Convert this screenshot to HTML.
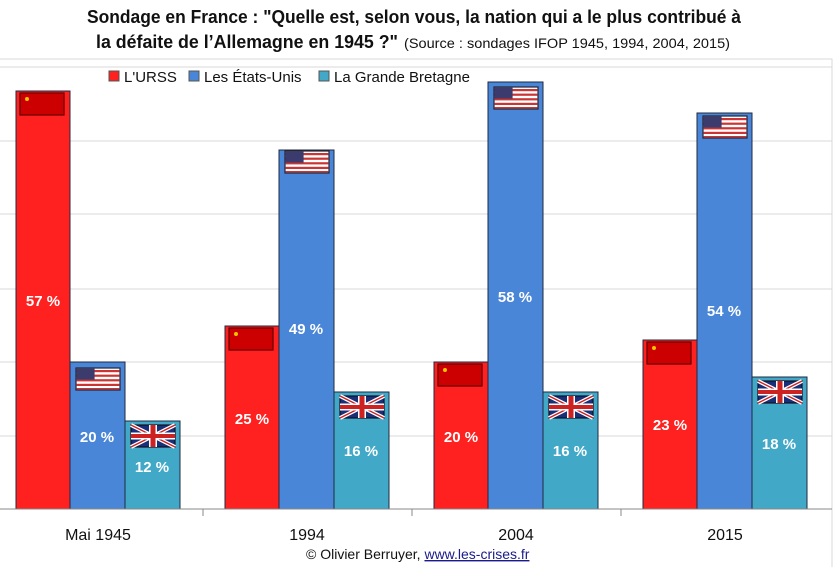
<!DOCTYPE html>
<html><head><meta charset="utf-8"><style>
body{margin:0;background:#fff;width:840px;height:567px;overflow:hidden}
svg{display:block;font-family:"Liberation Sans",sans-serif}
</style></head><body>
<svg width="840" height="567" viewBox="0 0 840 567">
<defs>
<g id="su"><rect x="0" y="0" width="44" height="22" fill="#cc0000" stroke="#600" stroke-width="1.2"/><circle cx="7" cy="6" r="2" fill="#f5c400"/></g>
<g id="us"><rect x="0" y="0" width="44" height="22" fill="#fff" stroke="#223" stroke-width="1.2"/>
<rect x="0.6" y="2" width="42.8" height="2.2" fill="#c33"/><rect x="0.6" y="6.6" width="42.8" height="2.2" fill="#c33"/><rect x="0.6" y="11.2" width="42.8" height="2.2" fill="#c33"/><rect x="0.6" y="15.8" width="42.8" height="2.2" fill="#c33"/><rect x="0.6" y="20" width="42.8" height="1.4" fill="#c33"/>
<rect x="0.6" y="0.6" width="18" height="11" fill="#3c3b6e"/></g>
<g id="uk"><rect x="0" y="0" width="44" height="22" fill="#1a2f7a" stroke="#112" stroke-width="1.2"/>
<path d="M0 0L44 22M44 0L0 22" stroke="#fff" stroke-width="4"/><path d="M0 0L44 22M44 0L0 22" stroke="#c22" stroke-width="1.4"/>
<rect x="18" y="0" width="8" height="22" fill="#fff"/><rect x="0" y="7.5" width="44" height="7" fill="#fff"/>
<rect x="19.5" y="0" width="5" height="22" fill="#c22"/><rect x="0" y="9" width="44" height="4" fill="#c22"/></g>
</defs>
<text x="414" y="23" text-anchor="middle" font-size="18" font-weight="bold" textLength="654" lengthAdjust="spacingAndGlyphs" fill="#111">Sondage en France : "Quelle est, selon vous, la nation qui a le plus contribué à</text>
<text x="96" y="48" font-size="18" font-weight="bold" textLength="302" lengthAdjust="spacingAndGlyphs" fill="#111">la défaite de l’Allemagne en 1945 ?"</text>
<text x="404" y="48" font-size="14" textLength="326" lengthAdjust="spacingAndGlyphs" fill="#111">(Source : sondages IFOP 1945, 1994, 2004, 2015)</text>
<rect x="-2" y="59" width="834" height="520" fill="#fff" stroke="#d9d9d9"/>
<g stroke="#d9d9d9" stroke-width="1">
<line x1="0" y1="67" x2="832" y2="67"/><line x1="0" y1="141" x2="832" y2="141"/><line x1="0" y1="214" x2="832" y2="214"/><line x1="0" y1="289" x2="832" y2="289"/><line x1="0" y1="362" x2="832" y2="362"/><line x1="0" y1="436" x2="832" y2="436"/>
</g>
<g font-size="15" fill="#111">
<rect x="109" y="71" width="10" height="10" fill="#ff2020" stroke="#555"/><text x="124" y="82">L'URSS</text>
<rect x="189" y="71" width="10" height="10" fill="#4a86d8" stroke="#555"/><text x="204" y="82">Les États-Unis</text>
<rect x="319" y="71" width="10" height="10" fill="#41a8c8" stroke="#555"/><text x="334" y="82">La Grande Bretagne</text>
</g>
<g stroke="#1e2a40" stroke-width="1">
<rect x="16" y="91" width="54" height="418" fill="#ff2020"/>
<rect x="70" y="362" width="55" height="147" fill="#4a86d8"/>
<rect x="125" y="421" width="55" height="88" fill="#41a8c8"/>
<rect x="225" y="326" width="54" height="183" fill="#ff2020"/>
<rect x="279" y="150" width="55" height="359" fill="#4a86d8"/>
<rect x="334" y="392" width="55" height="117" fill="#41a8c8"/>
<rect x="434" y="362" width="54" height="147" fill="#ff2020"/>
<rect x="488" y="82" width="55" height="427" fill="#4a86d8"/>
<rect x="543" y="392" width="55" height="117" fill="#41a8c8"/>
<rect x="643" y="340" width="54" height="169" fill="#ff2020"/>
<rect x="697" y="113" width="55" height="396" fill="#4a86d8"/>
<rect x="752" y="377" width="55" height="132" fill="#41a8c8"/>
</g>
<use href="#su" x="20" y="93"/><use href="#us" x="76" y="368"/><use href="#uk" x="131" y="425"/>
<use href="#su" x="229" y="328"/><use href="#us" x="285" y="151"/><use href="#uk" x="340" y="396"/>
<use href="#su" x="438" y="364"/><use href="#us" x="494" y="87"/><use href="#uk" x="549" y="396"/>
<use href="#su" x="647" y="342"/><use href="#us" x="703" y="116"/><use href="#uk" x="758" y="381"/>
<g font-size="15" font-weight="bold" fill="#fff" text-anchor="middle">
<text x="43" y="306">57 %</text><text x="97" y="442">20 %</text><text x="152" y="472">12 %</text>
<text x="252" y="424">25 %</text><text x="306" y="334">49 %</text><text x="361" y="456">16 %</text>
<text x="461" y="442">20 %</text><text x="515" y="302">58 %</text><text x="570" y="456">16 %</text>
<text x="670" y="430">23 %</text><text x="724" y="316">54 %</text><text x="779" y="449">18 %</text>
</g>
<line x1="0" y1="509" x2="832" y2="509" stroke="#888"/>
<g stroke="#888"><line x1="203" y1="509" x2="203" y2="516"/><line x1="412" y1="509" x2="412" y2="516"/><line x1="621" y1="509" x2="621" y2="516"/></g>
<g font-size="16" fill="#111" text-anchor="middle">
<text x="98" y="540">Mai 1945</text><text x="307" y="540">1994</text><text x="516" y="540">2004</text><text x="725" y="540">2015</text>
</g>
<text x="306" y="559" font-size="14" fill="#111">© Olivier Berruyer, <tspan fill="#1a1a8a" text-decoration="underline">www.les-crises.fr</tspan></text>
</svg>
</body></html>
